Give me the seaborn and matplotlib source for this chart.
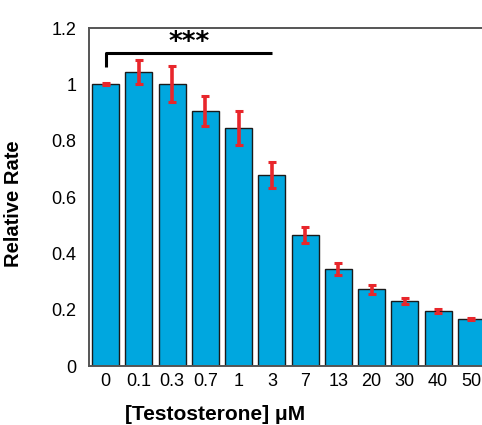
import numpy as np
import pandas as pd
import matplotlib
matplotlib.use("Agg")
import matplotlib.pyplot as plt
import seaborn as sns

# ----------------------------
# Data
# ----------------------------
doses = ["0", "0.1", "0.3", "0.7", "1", "3", "7", "13", "20", "30", "40", "50"]
rates = [1.00, 1.045, 1.00, 0.905, 0.845, 0.678, 0.465, 0.344, 0.273, 0.231, 0.195, 0.167]
errors = [0.004, 0.043, 0.064, 0.053, 0.060, 0.046, 0.027, 0.022, 0.016, 0.010, 0.008, 0.005]

df = pd.DataFrame({"dose": doses, "rate": rates, "err": errors})

sns.set_theme(style="white")
plt.rcParams["font.family"] = ["Liberation Sans", "DejaVu Sans"]

fig = plt.figure(figsize=(4.82, 4.25), dpi=100)
ax = fig.add_axes([0.1846, 0.1388, 0.8278, 0.7953])

sns.barplot(
    data=df, x="dose", y="rate", order=doses,
    color="#00a7df", saturation=1, width=0.81,
    edgecolor="#1a1a1a", linewidth=1.0, ax=ax
)

ax.errorbar(
    np.arange(len(doses)), df["rate"], yerr=df["err"],
    fmt="none", ecolor="#e8262b", elinewidth=2.6,
    capsize=3.2, capthick=2.2, zorder=5
)

# significance bracket between 0 and 3 uM
ax.plot([0, 0, 5], [1.062, 1.111, 1.111], color="black", lw=2.2,
        solid_capstyle="butt", clip_on=False)
ax.text(2.5, 1.145, "***", ha="center", va="center", fontsize=19,
        fontweight="bold", color="black", family="DejaVu Sans")

ax.set_xlim(-0.5, 11.5)
ax.set_ylim(0, 1.2)
ax.set_yticks([0, 0.2, 0.4, 0.6, 0.8, 1.0, 1.2])
ax.set_yticklabels(["0", "0.2", "0.4", "0.6", "0.8", "1", "1.2"])
ax.tick_params(axis="both", length=0, labelsize=13, colors="black")
ax.tick_params(axis="y", pad=9)
ax.tick_params(axis="x", pad=5)

for side in ["left", "bottom", "top"]:
    ax.spines[side].set_visible(True)
    ax.spines[side].set_color("#555555")
    ax.spines[side].set_linewidth(1.4)
ax.spines["right"].set_visible(False)

ax.set_xlabel("[Testosterone] \u03bcM", fontsize=15, fontweight="bold",
              color="black")
ax.xaxis.set_label_coords(0.316, -0.115)
ax.set_ylabel("Relative Rate", fontsize=14.5, fontweight="bold",
              color="black")
ax.yaxis.set_label_coords(-0.165, 0.48)

fig.savefig("out.png", dpi=100)
